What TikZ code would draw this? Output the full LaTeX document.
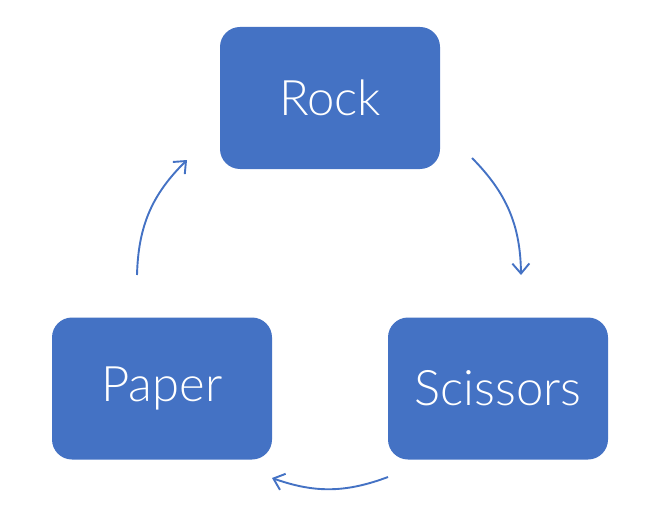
\documentclass[tikz,border=0pt]{standalone}
\usepackage{fontspec}
\setmainfont{Lato Light}
\usetikzlibrary{arrows.meta}
\definecolor{boxblue}{HTML}{4472C4}
\begin{document}
\begin{tikzpicture}[x=1pt,y=-1pt,
  rps/.style={fill=boxblue, rounded corners=20pt, minimum width=220pt, minimum height=142pt, inner sep=0pt, text=white, font=\fontsize{49}{52}\selectfont},
  cyc/.style={draw=boxblue, line width=1.9pt, -{Straight Barb[length=10pt,width=17pt,line width=1.9pt]}}]
\useasboundingbox (0,0) rectangle (660,513);
\node[rps] (rock) at (330,98) {Rock};
\node[rps] (paper) at (162,388.5) {Paper};
\node[rps] (scissors) at (498,388.5) {Scissors};
\coordinate (a1) at (472,158);
\coordinate (a2) at (521,275);
\coordinate (b1) at (388,477);
\coordinate (b2) at (272,478);
\coordinate (c1) at (137,275);
\coordinate (c2) at (187,160);
\draw[cyc] (a1) to[bend left=22] (a2);
\draw[cyc] (b1) to[bend left=20] (b2);
\draw[cyc] (c1) to[bend left=22] (c2);
\end{tikzpicture}
\end{document}
